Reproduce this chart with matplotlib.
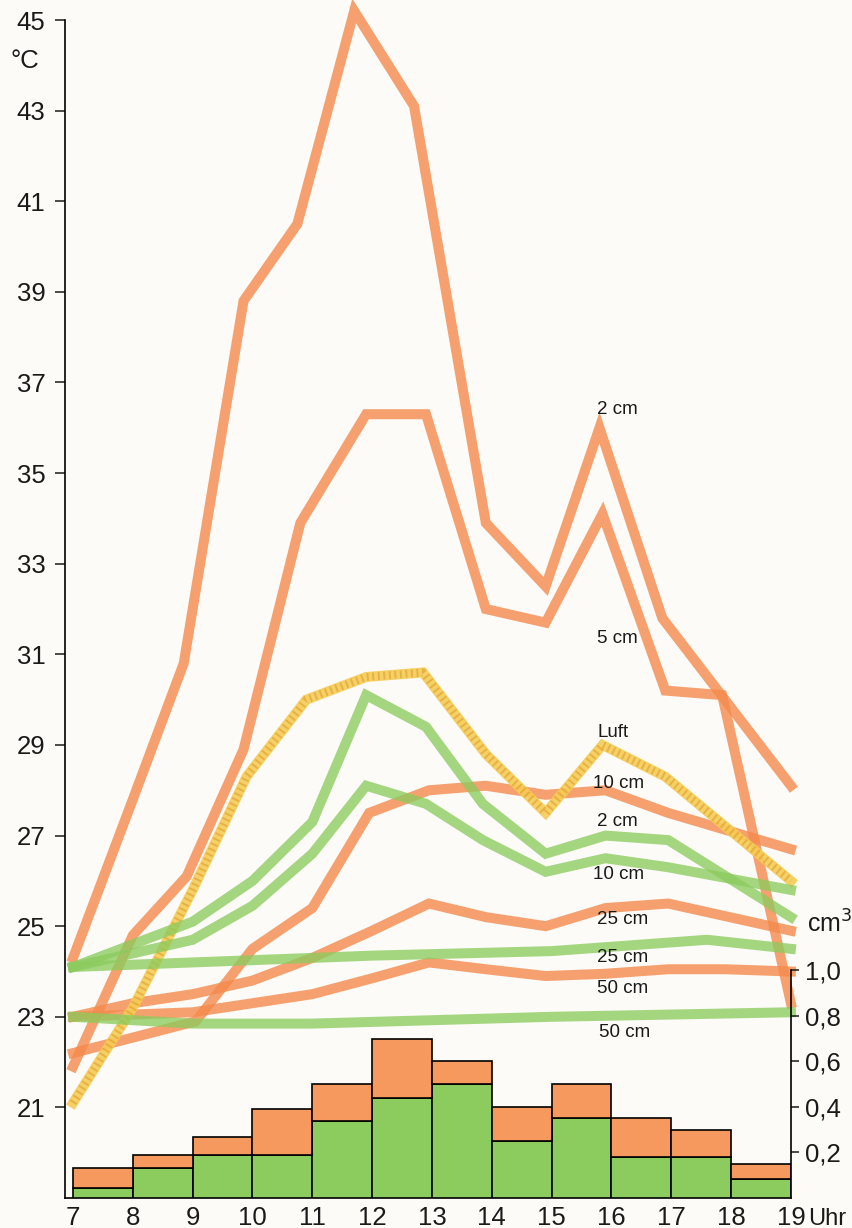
import matplotlib.pyplot as plt

plt.rcParams["font.family"] = ["Liberation Sans", "DejaVu Sans"]

# temperature curves (hour, deg C)
# sunny site = orange, shaded site = green, air = yellow
sun2_x = [7.0, 8.0, 8.85, 9.85, 10.75, 11.7, 12.7, 13.9, 14.9, 15.8, 16.85, 19.0]
sun2_t = [24.3, 27.8, 30.8, 38.8, 40.5, 45.2, 43.1, 33.9, 32.5, 36.0, 31.8, 28.1]

sun5_x = [7.0, 8.0, 8.9, 9.85, 10.8, 11.9, 12.9, 13.9, 14.9, 15.85, 16.9, 17.85, 19.0]
sun5_t = [21.9, 24.8, 26.1, 28.9, 33.9, 36.3, 36.3, 32.0, 31.7, 34.1, 30.2, 30.1, 23.3]

sun10_x = [7.0, 9.05, 10.0, 11.0, 11.95, 12.95, 13.9, 14.9, 15.9, 16.95, 19.0]
sun10_t = [22.2, 22.9, 24.5, 25.4, 27.5, 28.0, 28.1, 27.9, 28.0, 27.5, 26.7]

sun25_x = [7.0, 8.0, 9.0, 10.0, 11.0, 12.0, 12.95, 13.9, 14.9, 15.9, 16.95, 19.0]
sun25_t = [23.0, 23.3, 23.5, 23.8, 24.3, 24.9, 25.5, 25.2, 25.0, 25.4, 25.5, 24.9]

sun50_x = [7.0, 9.0, 10.0, 11.0, 12.0, 12.95, 13.9, 14.9, 15.9, 16.95, 17.9, 19.0]
sun50_t = [23.0, 23.1, 23.3, 23.5, 23.85, 24.2, 24.05, 23.9, 23.95, 24.05, 24.05, 24.0]

shade2_x = [7.0, 8.0, 9.0, 10.0, 11.0, 11.9, 12.9, 13.85, 14.9, 15.9, 16.95, 19.0]
shade2_t = [24.1, 24.6, 25.1, 26.0, 27.3, 30.1, 29.4, 27.7, 26.6, 27.0, 26.9, 25.2]

shade10_x = [7.0, 9.0, 10.0, 11.0, 11.9, 12.9, 13.85, 14.9, 15.9, 16.95, 19.0]
shade10_t = [24.1, 24.7, 25.45, 26.6, 28.1, 27.7, 26.9, 26.2, 26.5, 26.3, 25.8]

shade25_x = [7.0, 10.0, 12.0, 15.0, 17.6, 19.0]
shade25_t = [24.1, 24.25, 24.35, 24.45, 24.7, 24.5]

shade50_x = [7.0, 9.0, 11.0, 15.0, 19.0]
shade50_t = [23.0, 22.85, 22.85, 23.0, 23.1]

air_x = [7.0, 8.0, 9.0, 9.9, 10.9, 11.9, 12.85, 13.9, 14.9, 15.85, 16.9, 19.0]
air_t = [21.1, 23.2, 25.8, 28.3, 30.0, 30.5, 30.6, 28.8, 27.5, 29.0, 28.3, 26.0]

# hourly amounts (cm3), green part and total
bar_hours = [7, 8, 9, 10, 11, 12, 13, 14, 15, 16, 17, 18]
green_vol = [0.045, 0.13, 0.19, 0.19, 0.34, 0.44, 0.50, 0.25, 0.35, 0.18, 0.18, 0.085]
total_vol = [0.13, 0.19, 0.27, 0.39, 0.50, 0.70, 0.60, 0.40, 0.50, 0.35, 0.30, 0.15]

hour_ticks = [7, 8, 9, 10, 11, 12, 13, 14, 15, 16, 17, 18, 19]
temp_ticks = [21, 23, 25, 27, 29, 31, 33, 35, 37, 39, 41, 43, 45]
vol_ticks = [0.2, 0.4, 0.6, 0.8, 1.0]
vol_labels = ["0,2", "0,4", "0,6", "0,8", "1,0"]

# labels at the right end of the curves
curve_labels = ["2 cm", "5 cm", "Luft", "10 cm", "2 cm", "10 cm", "25 cm", "25 cm", "50 cm", "50 cm"]

orange = "#F48A4C"
bar_orange = "#F5995F"
green = "#8CCB5E"
yellow = "#F5CD55"
ink = "#1a1a1a"

fig = plt.figure(figsize=(8.52, 12.28), dpi=100)
fig.patch.set_facecolor("#FCFBF7")
ax = fig.add_axes([0.0763, 0.0244, 0.852, 0.9593])
ax.set_facecolor("none")

lw = 7.2

for xs, ts in [(sun2_x, sun2_t), (sun5_x, sun5_t), (sun10_x, sun10_t),
               (sun25_x, sun25_t), (sun50_x, sun50_t)]:
    ax.plot(xs, ts, color=orange, lw=lw, alpha=0.8, solid_joinstyle="miter",
            clip_on=False, zorder=3)

# air: yellow band with fine hatching
ax.plot(air_x, air_t, color=yellow, lw=lw, solid_joinstyle="miter", alpha=0.9,
        clip_on=False, zorder=4)
ax.plot(air_x, air_t, color="#E5A335", lw=lw - 1.5, dashes=(0.25, 0.45),
        alpha=0.7, clip_on=False, zorder=4)

for xs, ts in [(shade2_x, shade2_t), (shade10_x, shade10_t),
               (shade25_x, shade25_t), (shade50_x, shade50_t)]:
    ax.plot(xs, ts, color=green, lw=lw, alpha=0.78, solid_joinstyle="miter",
            clip_on=False, zorder=5)

label_pos = [(15.76, 36.4), (15.76, 31.35), (15.76, 29.27), (15.69, 28.14),
             (15.76, 27.3), (15.69, 26.13), (15.76, 25.15), (15.76, 24.31),
             (15.76, 23.63), (15.79, 22.65)]
for txt, (lx, ly) in zip(curve_labels, label_pos):
    ax.text(lx, ly, txt, fontsize=13.5, color=ink, ha="left", va="center", zorder=6)

ax.set_xlim(6.866, 19.0)
ax.set_ylim(19, 45)
ax.set_yticks(temp_ticks)
ax.set_xticks(hour_ticks)
ax.set_xticklabels([str(h) for h in hour_ticks])
ax.tick_params(axis="y", direction="out", length=7, width=1.1, pad=7,
               labelsize=18.5, colors=ink)
ax.tick_params(axis="x", length=0, pad=6, labelsize=18.5, colors=ink)
ax.spines["top"].set_visible(False)
ax.spines["right"].set_visible(False)
ax.spines["left"].set_linewidth(1.2)
ax.spines["bottom"].set_linewidth(1.2)

ax.text(-0.075, 0.965, "°C", transform=ax.transAxes, fontsize=18.5, color=ink,
        ha="left", va="center")
ax.text(1.024, -0.0175, "Uhr", transform=ax.transAxes, fontsize=17, color=ink,
        ha="left", va="center", clip_on=False)

# bars on the right hand scale
ax2 = ax.twinx()
ax2.bar(bar_hours, green_vol, width=1.0, align="edge", color=green,
        edgecolor="black", linewidth=1.2, zorder=2)
ax2.bar(bar_hours, [t - g for t, g in zip(total_vol, green_vol)], bottom=green_vol,
        width=1.0, align="edge", color=bar_orange, edgecolor="black", linewidth=1.2,
        zorder=2)
ax2.set_ylim(0, 5.17)
ax2.set_yticks(vol_ticks)
ax2.set_yticklabels(vol_labels)
ax2.tick_params(axis="y", direction="out", length=6, width=1.1, pad=4,
                labelsize=18.5, colors=ink)
for s in ["top", "left", "bottom"]:
    ax2.spines[s].set_visible(False)
ax2.spines["right"].set_bounds(0, 1.0)
ax2.spines["right"].set_linewidth(1.2)
ax2.text(1.022, 0.233, "cm$^3$", transform=ax2.transAxes, fontsize=18, color=ink,
         ha="left", va="center")

fig.savefig("out.png", dpi=100, facecolor=fig.get_facecolor())
